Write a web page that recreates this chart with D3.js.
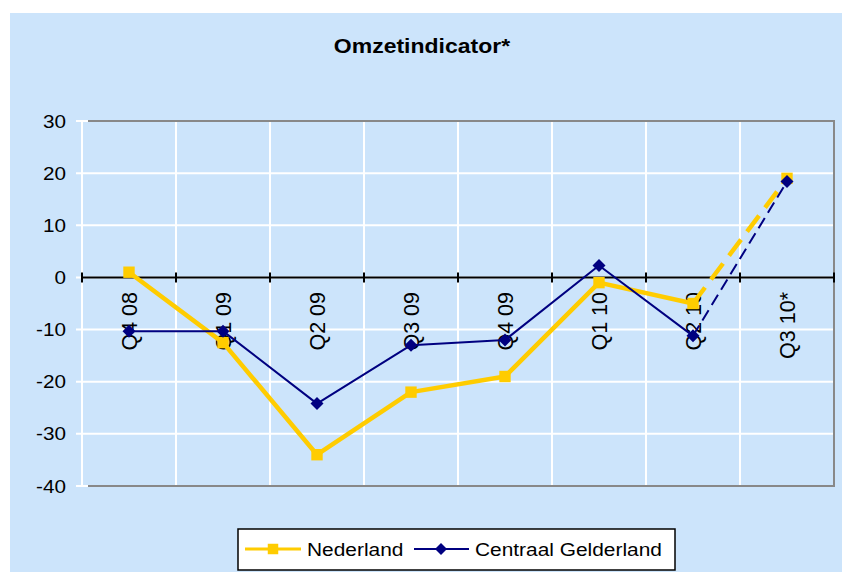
<!DOCTYPE html>
<html>
<head>
<meta charset="utf-8">
<script src="https://cdn.jsdelivr.net/npm/d3@7"></script>
<style>
    body { margin: 0; background: #fff; }
    text { font-family: Arial, "Liberation Sans", sans-serif; }
</style>
</head>
<body>
<svg id="chart"></svg>
<script>
const quarters = ['Q4 08', 'Q1 09', 'Q2 09', 'Q3 09', 'Q4 09', 'Q1 10', 'Q2 10', 'Q3 10*'];
const nederland = [1, -12.5, -34, -22, -19, -1, -5, 19];
const centraalGelderland = [-10.3, -10.3, -24.2, -13, -12, 2.3, -11.2, 18.4];
const yTicks = [30, 20, 10, 0, -10, -20, -30, -40];

const width = 842, height = 572;
const svg = d3.select('#chart').attr('width', width).attr('height', height);

svg.append('rect')
    .attr('x', 10).attr('y', 13)
    .attr('width', width - 10).attr('height', height - 13)
    .attr('fill', '#cce4fb');

const plot = { left: 82, right: 834, top: 121, bottom: 486 };
const stretch = 1.15; // the text in the picture is a bit wide

let x = d3.scaleBand().domain(quarters).range([plot.left, plot.right]);
let y = d3.scaleLinear().domain([-40, 30]).range([plot.bottom, plot.top]);

svg.append('text')
    .attr('transform', 'translate(422,52.5) scale(' + stretch + ',1.05)')
    .attr('text-anchor', 'middle')
    .style('font-size', '20px').style('font-weight', 'bold')
    .text('Omzetindicator*');

// horizontal gridlines + white ticks on left
let grid = svg.append('g');
grid.selectAll('line.h').data(yTicks).enter().append('line')
    .attr('x1', plot.left - 6).attr('x2', plot.right)
    .attr('y1', d => y(d)).attr('y2', d => y(d))
    .attr('stroke', '#fff').attr('stroke-width', 2);
// vertical gridlines at category boundaries
let bounds = quarters.map(q => x(q)).concat([plot.right]);
grid.selectAll('line.v').data(bounds.slice(0, -1)).enter().append('line')
    .attr('x1', d => d).attr('x2', d => d)
    .attr('y1', plot.top).attr('y2', plot.bottom)
    .attr('stroke', '#fff').attr('stroke-width', 2);

// plot border (top, right, bottom)
svg.append('path')
    .attr('d', 'M' + (plot.left + 6) + ',' + plot.top + ' L' + plot.right + ',' + plot.top +
        ' L' + plot.right + ',' + plot.bottom + ' L' + (plot.left + 6) + ',' + plot.bottom)
    .attr('fill', 'none').attr('stroke', '#888').attr('stroke-width', 2);

// y labels
svg.append('g').selectAll('text').data(yTicks).enter().append('text')
    .attr('transform', d => 'translate(66,' + (y(d) + 6.5) + ') scale(' + stretch + ',1)')
    .attr('text-anchor', 'end')
    .style('font-size', '18px')
    .text(d => d);

// zero axis
let axis = svg.append('g');
axis.append('line')
    .attr('x1', plot.left).attr('x2', plot.right)
    .attr('y1', y(0)).attr('y2', y(0))
    .attr('stroke', '#000').attr('stroke-width', 2);
axis.selectAll('line.tick').data(bounds).enter().append('line')
    .attr('x1', d => d).attr('x2', d => d)
    .attr('y1', y(0) - 5).attr('y2', y(0) + 5)
    .attr('stroke', '#000').attr('stroke-width', 2);
axis.selectAll('text').data(quarters).enter().append('text')
    .attr('transform', d => 'translate(' + (x(d) + x.bandwidth() / 2 + 7.5) + ',292) rotate(-90)')
    .attr('text-anchor', 'end')
    .style('font-size', '21.5px')
    .text(d => d);

function drawSeries(values, color, lineWidth, dash, marker) {
    let pts = values.map((v, i) => [x(quarters[i]) + x.bandwidth() / 2, y(v)]);
    let line = d3.line();
    let g = svg.append('g');
    g.append('path')
        .attr('d', line(pts.slice(0, pts.length - 1)))
        .attr('fill', 'none').attr('stroke', color).attr('stroke-width', lineWidth)
        .attr('stroke-linejoin', 'round');
    g.append('path')
        .attr('d', line(pts.slice(pts.length - 2)))
        .attr('fill', 'none').attr('stroke', color).attr('stroke-width', lineWidth)
        .attr('stroke-dasharray', dash);
    g.selectAll('path.m').data(pts).enter().append('path')
        .attr('transform', p => 'translate(' + p[0] + ',' + p[1] + ')')
        .attr('d', marker)
        .attr('fill', color);
}

const squareMarker = d3.symbol().type(d3.symbolSquare).size(130)();
const diamondMarker = 'M0,-6.5 L6.5,0 L0,6.5 L-6.5,0 Z';

drawSeries(nederland, '#ffcc00', 4.5, '20,10', squareMarker);
drawSeries(centraalGelderland, '#000080', 2, '12,6', diamondMarker);

// legend
let legend = svg.append('g');
legend.append('rect')
    .attr('x', 238).attr('y', 529).attr('width', 437).attr('height', 41)
    .attr('fill', '#fff').attr('stroke', '#000').attr('stroke-width', 1.5);
legend.append('line').attr('x1', 245).attr('x2', 301).attr('y1', 549).attr('y2', 549)
    .attr('stroke', '#ffcc00').attr('stroke-width', 3);
legend.append('path').attr('transform', 'translate(273,549)')
    .attr('d', d3.symbol().type(d3.symbolSquare).size(110)()).attr('fill', '#ffcc00');
legend.append('text').attr('transform', 'translate(307,556) scale(1.13,1)')
    .style('font-size', '18.5px').text('Nederland');
legend.append('line').attr('x1', 414).attr('x2', 469).attr('y1', 549).attr('y2', 549)
    .attr('stroke', '#000080').attr('stroke-width', 2);
legend.append('path').attr('transform', 'translate(441,549)')
    .attr('d', 'M0,-6 L6,0 L0,6 L-6,0 Z').attr('fill', '#000080');
legend.append('text').attr('transform', 'translate(475,556) scale(1.13,1)')
    .style('font-size', '18.5px').text('Centraal Gelderland');
</script>
</body>
</html>
